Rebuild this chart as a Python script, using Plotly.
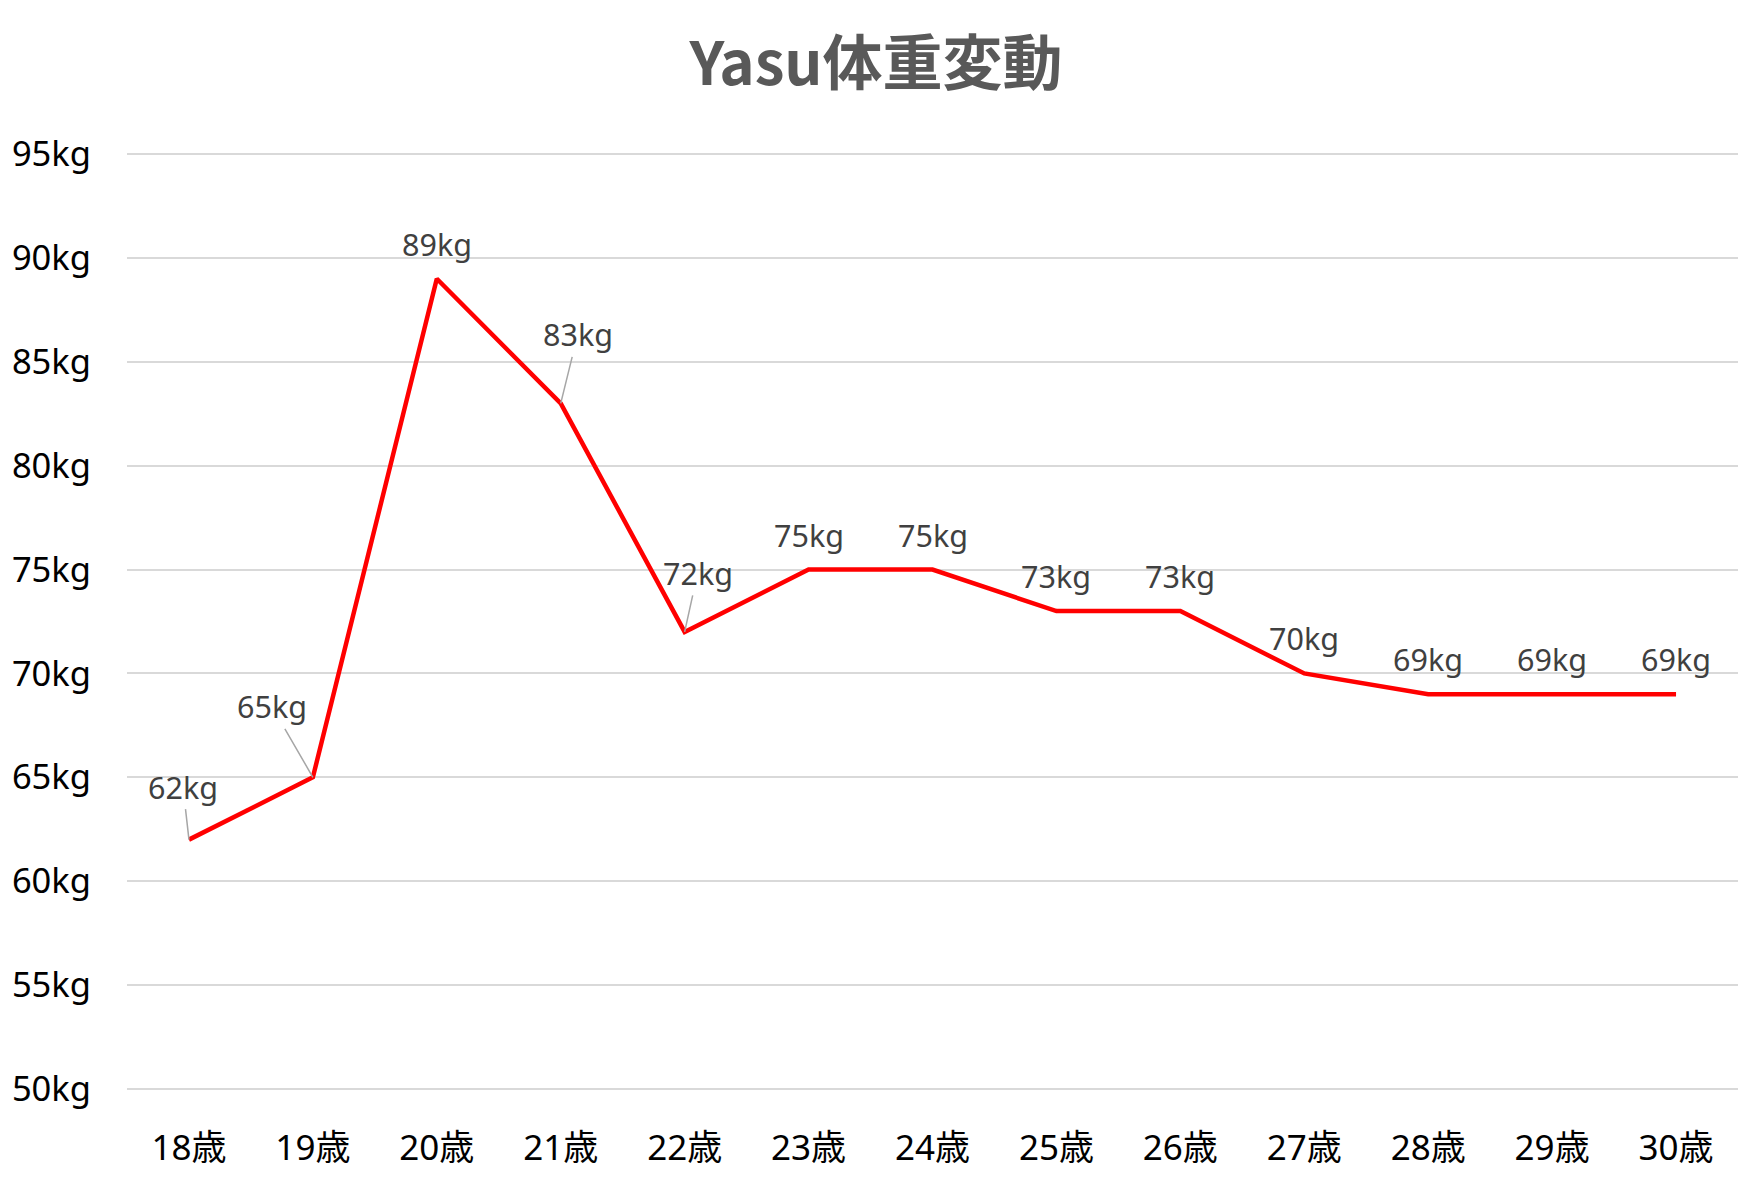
import plotly.graph_objects as go

# data
ages = ["18歳", "19歳", "20歳", "21歳", "22歳", "23歳", "24歳",
        "25歳", "26歳", "27歳", "28歳", "29歳", "30歳"]
weights = [62, 65, 89, 83, 72, 75, 75, 73, 73, 70, 69, 69, 69]
y_ticks = [50, 55, 60, 65, 70, 75, 80, 85, 90, 95]
y_tick_labels = [str(v) + "kg" for v in y_ticks]

TITLE = "Yasu体重変動"
LATIN = "Noto Sans, Noto Sans CJK JP, sans-serif"
CJK = "Noto Sans CJK JP, sans-serif"

# labels that sit off the point with a leader line: index -> (dx, dy) in px
leader_offsets = {0: (-6, -53), 1: (-41, -71), 3: (17, -69), 4: (13, -59)}

fig = go.Figure()
fig.add_trace(go.Scatter(
    x=ages, y=weights, mode="lines",
    line=dict(color="#FF0000", width=4.5),
    hoverinfo="x+y", showlegend=False,
))

for i, (age, w) in enumerate(zip(ages, weights)):
    txt = str(w) + "kg"
    if i in leader_offsets:
        dx, dy = leader_offsets[i]
        fig.add_annotation(x=age, y=w, text=txt, showarrow=True,
                           arrowhead=0, arrowwidth=1.5, arrowcolor="#A6A6A6",
                           standoff=0, ax=dx, ay=dy,
                           font=dict(family=LATIN, size=30.5, color="#404040"))
    else:
        fig.add_annotation(x=age, y=w, text=txt, showarrow=False, yshift=35,
                           font=dict(family=LATIN, size=30.5, color="#404040"))

fig.update_layout(
    width=1756, height=1192,
    paper_bgcolor="white", plot_bgcolor="white",
    margin=dict(l=111, r=18, t=152, b=101),
    title=dict(text="<b>" + TITLE + "</b>", x=876 / 1756, xanchor="center",
               y=1 - 64 / 1192, yanchor="middle",
               font=dict(family=CJK, size=60, color="#595959")),
    xaxis=dict(type="category", range=[-0.5, len(ages) - 0.5],
               showgrid=False, zeroline=False, showline=False,
               ticks="", ticklabelstandoff=33,
               tickfont=dict(family=LATIN, size=35, color="#000000")),
    yaxis=dict(range=[49.9, 95.1], tickvals=y_ticks, ticktext=y_tick_labels,
               showgrid=True, gridcolor="#D9D9D9", gridwidth=1.5,
               zeroline=False, showline=False, ticks="",
               ticklabelstandoff=35,
               tickfont=dict(family=LATIN, size=34.5, color="#000000")),
)

# drop the default page margin so the figure sits at the window corner
fig.write_html("out.html", config={"displayModeBar": False},
               post_script="document.body.style.margin='0';"
                           "document.body.style.overflow='hidden';")
